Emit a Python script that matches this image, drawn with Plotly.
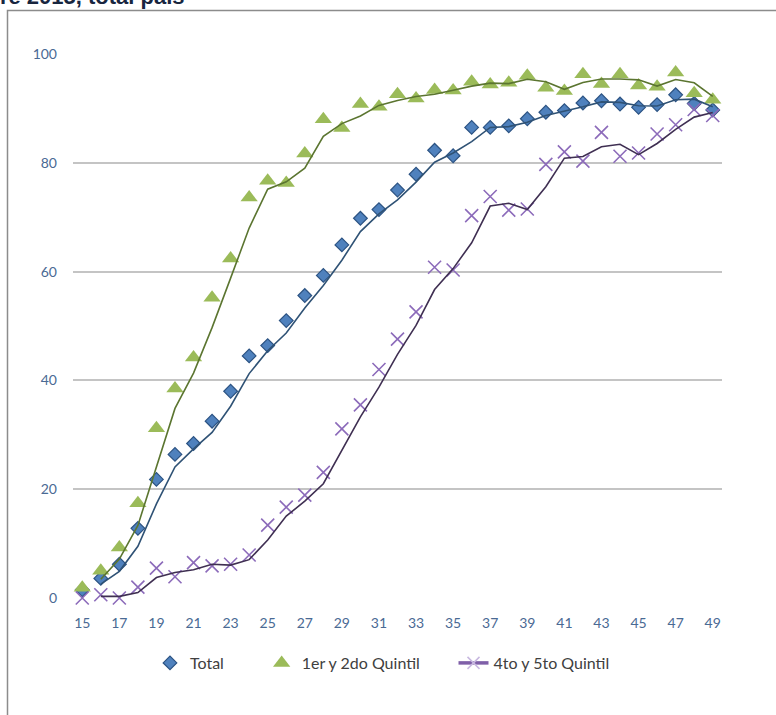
import plotly.graph_objects as go

# Ages (single years) and percentage series
ages = list(range(15, 50))

total = [1.5, 3.6, 6.2, 12.8, 21.8, 26.4, 28.4, 32.5, 38.0, 44.5, 46.4, 51.0, 55.6, 59.3, 64.9,
         69.8, 71.4, 75.0, 77.9, 82.3, 81.3, 86.5, 86.5, 86.8, 88.1, 89.3, 89.6, 91.0, 91.4,
         90.8, 90.2, 90.7, 92.5, 90.9, 89.7]

q12 = [1.9, 5.0, 9.3, 17.4, 31.2, 38.5, 44.2, 55.2, 62.4, 73.6, 76.7, 76.3, 81.7, 88.0, 86.4,
       90.8, 90.3, 92.6, 91.8, 93.4, 93.3, 94.9, 94.4, 94.7, 96.0, 93.8, 93.2, 96.3, 94.5,
       96.3, 94.2, 94.0, 96.6, 92.8, 91.6]

q45 = [0.0, 0.6, 0.0, 2.0, 5.5, 3.9, 6.5, 5.9, 6.2, 7.9, 13.4, 16.7, 18.9, 23.1, 31.1,
       35.5, 42.0, 47.6, 52.6, 60.8, 60.3, 70.3, 73.8, 71.3, 71.5, 79.7, 82.0, 80.3, 85.6,
       81.2, 81.8, 85.3, 87.0, 89.8, 88.7]

xticks = list(range(15, 50, 2))
yticks = [0, 20, 40, 60, 80, 100]


def moving_average(vals, period=2):
    return [sum(vals[i - period + 1:i + 1]) / period for i in range(period - 1, len(vals))]


W, H = 776, 715
L, R, T, B = 73, 54, 54, 117
pw, ph = W - L - R, H - T - B


def px(x):
    return (x - L) / pw


def py(y):
    return (H - B - y) / ph


NB = "\u00a0"

fig = go.Figure()

# markers
fig.add_trace(go.Scatter(
    x=ages, y=total, mode="markers", name="Total" + NB * 8, cliponaxis=False,
    marker=dict(symbol="diamond", size=10.5, color="#4F81BD",
                line=dict(color="#2C5383", width=1.2))))
fig.add_trace(go.Scatter(
    x=ages, y=q12, mode="markers", name="1er y 2do Quintil" + NB * 7, cliponaxis=False,
    marker=dict(symbol="triangle-up", size=15, color="#9BBB59",
                line=dict(color="#9BBB59", width=0))))
fig.add_trace(go.Scatter(
    x=ages, y=q45, mode="markers", name="4to y 5to Quintil", showlegend=False,
    cliponaxis=False,
    marker=dict(symbol="x-thin", size=13, color="#8C6BBA",
                line=dict(color="#8C6BBA", width=1.6))))

# two-period moving-average trend lines
fig.add_trace(go.Scatter(x=ages[1:], y=moving_average(total), mode="lines",
                         showlegend=False, line=dict(color="#2F5275", width=1.6)))
fig.add_trace(go.Scatter(x=ages[1:], y=moving_average(q12), mode="lines",
                         showlegend=False, line=dict(color="#5B7530", width=1.6)))
fig.add_trace(go.Scatter(x=ages[1:], y=moving_average(q45), mode="lines",
                         showlegend=False, line=dict(color="#3F2F52", width=1.6)))

# legend entry for the purple series
fig.add_trace(go.Scatter(
    x=[None], y=[None], mode="lines+markers", name="4to y 5to Quintil",
    line=dict(color="#7F5FA8", width=3.5),
    marker=dict(symbol="x-thin", size=12, color="#C8B8E0",
                line=dict(color="#C8B8E0", width=1.5))))

# chart frame
fig.add_shape(type="rect", xref="paper", yref="paper",
              x0=px(7.5), x1=px(790), y0=py(730), y1=py(10.5),
              line=dict(color="#8C8C8C", width=1.5), layer="below")

# heading (runs off the top of the canvas)
fig.add_annotation(text="<b>Noviembre 2015, total país</b>", xref="paper", yref="paper",
                   x=px(187), y=py(11), xanchor="right", yanchor="bottom",
                   showarrow=False, font=dict(family="Liberation Sans", size=22,
                                              color="#18263F"))

fig.update_layout(
    width=W, height=H,
    margin=dict(l=L, r=R, t=T, b=B),
    paper_bgcolor="white", plot_bgcolor="white",
    font=dict(family="Lato", size=14, color="#4A6A94"),
    showlegend=True,
    legend=dict(orientation="h", x=px(382.5), xanchor="center", y=py(663), yanchor="middle",
                font=dict(family="Lato", size=16, color="#404040"),
                itemwidth=30, tracegroupgap=0, bgcolor="rgba(0,0,0,0)"),
    xaxis=dict(range=[14.5, 49.5], tickvals=xticks, ticktext=[str(v) for v in xticks],
               showgrid=False, zeroline=False, showline=False, ticks="",
               ticklabelstandoff=15, tickfont=dict(family="Lato", size=14, color="#4A6A94")),
    yaxis=dict(range=[0, 100], tickvals=yticks, showgrid=True,
               gridcolor="#C4C4C4", gridwidth=1.5, zeroline=False, showline=False, ticks="",
               ticklabelstandoff=15, tickfont=dict(family="Lato", size=14, color="#4A6A94")),
)

fig.write_html("out.html")
